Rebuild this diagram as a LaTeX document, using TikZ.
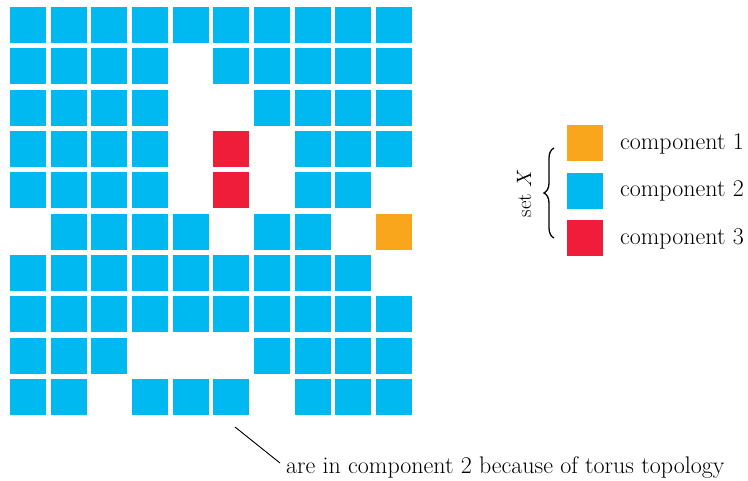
\documentclass[tikz,border=0pt]{standalone}
\usetikzlibrary{decorations.pathreplacing}
\definecolor{cB}{RGB}{0,185,241}
\definecolor{cR}{RGB}{239,29,58}
\definecolor{cO}{RGB}{249,166,28}
\begin{document}
\begin{tikzpicture}[x=1pt,y=-1pt,
  cell/.style={minimum width=36pt,minimum height=36pt,inner sep=0pt,outer sep=0pt,anchor=north west,draw=none},
  lbl/.style={anchor=base west,inner sep=0pt,font=\fontsize{24}{28}\selectfont},
  bracestyle/.style={decorate,decoration={brace,amplitude=10pt},line width=1.3pt}]
\useasboundingbox (0,0) rectangle (748,480);
\foreach \row [count=\r from 0] in {
  {B,B,B,B,B,B,B,B,B,B},
  {B,B,B,B,E,B,B,B,B,B},
  {B,B,B,B,E,E,B,B,B,B},
  {B,B,B,B,E,R,E,B,B,B},
  {B,B,B,B,E,R,E,B,B,E},
  {E,B,B,B,B,E,B,B,E,O},
  {B,B,B,B,B,B,B,B,B,E},
  {B,B,B,B,B,B,B,B,B,B},
  {B,B,B,E,E,E,B,B,B,B},
  {B,B,E,B,B,B,E,B,B,B}} {
  \foreach \t [count=\c from 0] in \row {
    \if\t E\else
      \node[cell,fill=c\t] (cell-\r-\c) at ({10+40.67*\c},{7+41.33*\r}) {};
    \fi
  }
}
% legend
\node[cell,fill=cO] (leg1) at (567,125) {};
\node[cell,fill=cB] (leg2) at (567,172.5) {};
\node[cell,fill=cR] (leg3) at (567,220) {};
\node[lbl] (t1) at (620,149) {component 1};
\node[lbl] (t2) at (620,196.5) {component 2};
\node[lbl] (t3) at (620,244) {component 3};
\coordinate (bb) at (554,238);
\coordinate (bt) at (554,148);
\draw[bracestyle] (bb) -- (bt);
\node[rotate=90,inner sep=0pt,font=\fontsize{21}{24}\selectfont] (setx) at (524,193) {set $X$};
% note
\node[lbl] (note) at (286,473) {are in component 2 because of torus topology};
\coordinate (ptr) at (235,427);
\coordinate (ptrend) at (280,463);
\draw[line width=0.9pt] (ptr) -- (ptrend);
\end{tikzpicture}
\end{document}
